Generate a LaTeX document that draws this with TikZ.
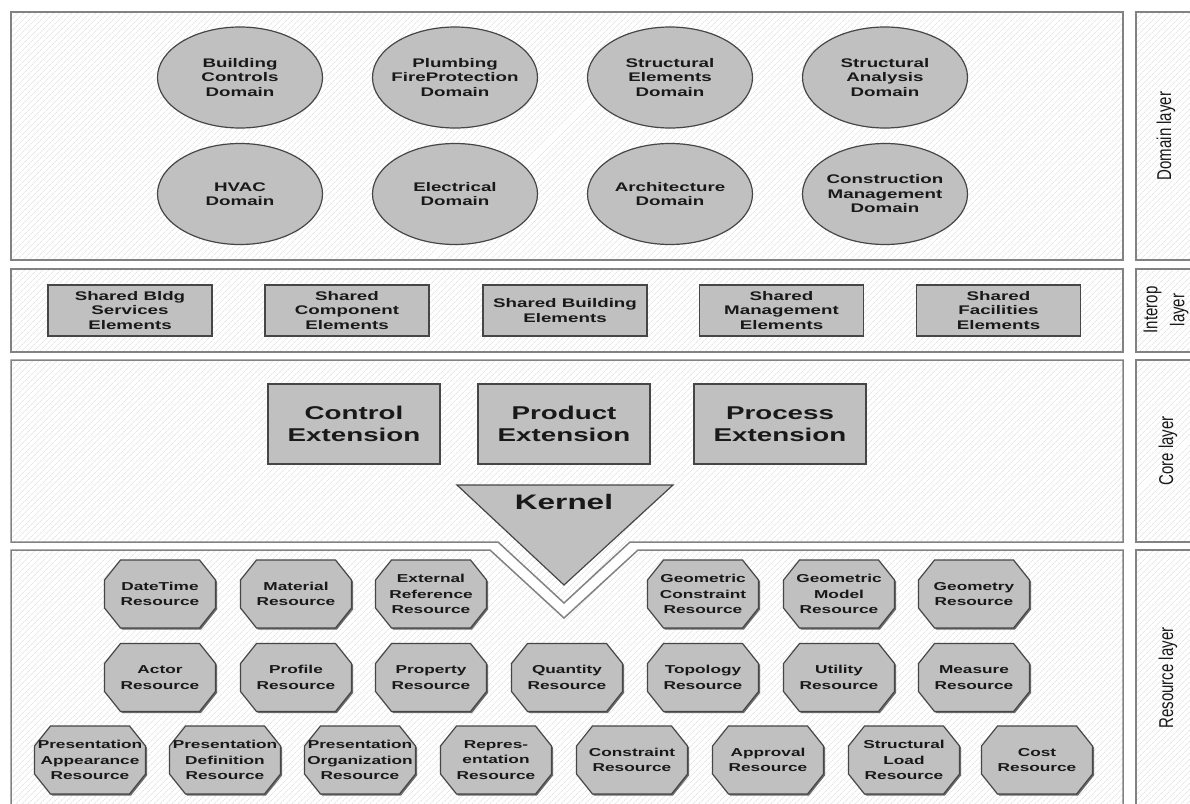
\documentclass[tikz,border=0pt]{standalone}
\usepackage{fontspec}
\setmainfont{Liberation Sans}
\newfontfamily\boxfont[FakeStretch=1.5]{Liberation Sans}
\newfontfamily\layerfont[FakeStretch=0.75]{Liberation Sans}
\usetikzlibrary{patterns.meta}

\definecolor{boxgray}{RGB}{192,192,192}
\definecolor{edgegray}{RGB}{70,70,70}
\definecolor{panelline}{RGB}{130,130,130}
\definecolor{hatchgray}{RGB}{218,218,218}

\tikzset{every picture/.style={line width=0.75pt}}
\tikzset{
  panel/.style={draw=panelline, line width=1.5pt, preaction={fill=white},
    pattern={Lines[angle=45,distance=4pt,line width=0.6pt]}, pattern color=hatchgray},
  greyshape/.style={draw=edgegray, line width=1.2pt, fill=boxgray},
  shade/.style={fill=edgegray!80, draw=none},
  octpath/.style={insert path={(-55.5,-14) -- (-39.5,-34) -- (39.5,-34) -- (55.5,-14) -- (55.5,14) -- (39.5,34) -- (-39.5,34) -- (-55.5,14) -- cycle}},
  domtext/.style={align=center, text=black!90, inner sep=0pt, font=\boxfont\bfseries\fontsize{12.5}{14.5}\selectfont},
  restext/.style={align=center, text=black!90, inner sep=0pt, font=\boxfont\bfseries\fontsize{11.5}{15.5}\selectfont},
  ibox/.style={greyshape, align=center, text=black!90, inner sep=0pt, minimum width=164pt, minimum height=51pt, font=\boxfont\bfseries\fontsize{12.5}{14.3}\selectfont},
  cbox/.style={greyshape, align=center, text=black!90, inner sep=0pt, minimum width=172pt, minimum height=80pt, font=\boxfont\bfseries\fontsize{18.5}{22}\selectfont},
  layer/.style={rotate=90, align=center, text=black!90, inner sep=0pt, font=\layerfont\fontsize{20}{27}\selectfont}
}

\begin{document}
\begin{tikzpicture}[x=1pt,y=1pt,yscale=-1,xscale=1]
\useasboundingbox (0,0) rectangle (1190,803);
\clip (0,0) rectangle (1190,803);

%Shape: Panels
\draw[panel] (11,12) rectangle (1123,260);
\draw[panel] (11,269) rectangle (1123,352);
\draw[panel] (11,360) -- (1123,360) -- (1123,542) -- (630,542) -- (564,603) -- (498,542) -- (11,542) -- cycle;
\draw[panel] (11,550) -- (490,550) -- (564,618) -- (638,550) -- (1123,550) -- (1123,812) -- (11,812) -- cycle;
%Shape: Layer label boxes
\draw[panel] (1136,12) rectangle (1200,260);
\draw[panel] (1136,269) rectangle (1200,352);
\draw[panel] (1136,360) rectangle (1200,542);
\draw[panel] (1136,550) rectangle (1200,812);

% Text Node
\node[layer] (domlayer) at (1166,136) {Domain layer};
% Text Node
\node[layer] (interlayer) at (1166,310) {Interop\\layer};
% Text Node
\node[layer] (corelayer) at (1168,451) {Core layer};
% Text Node
\node[layer] (reslayer) at (1168,678) {Resource layer};

%Shape: Domain ellipses
\foreach \cx/\cy/\nm/\txt in {240/77.5/bldgctrl/{Building\\Controls\\Domain},
    455/77.5/plumbing/{Plumbing\\FireProtection\\Domain},
    670/77.5/structel/{Structural\\Elements\\Domain},
    885/77.5/structan/{Structural\\Analysis\\Domain},
    240/194/hvac/{HVAC\\Domain},
    455/194/electrical/{Electrical\\Domain},
    670/194/architecture/{Architecture\\Domain},
    885/194/constrmgmt/{Construction\\Management\\Domain}}{
  \draw[greyshape] (\cx,\cy) ellipse [x radius=82.5, y radius=50.5];
  \node[domtext] (\nm) at (\cx,\cy) {\txt};
}

%Shape: Interop boxes
\node[ibox] (shbldgsrv) at (130,310.5) {Shared Bldg\\Services\\Elements};
\node[ibox] (shcomp) at (347,310.5) {Shared\\Component\\Elements};
\node[ibox] (shbuilding) at (565,310.5) {Shared Building\\Elements};
\node[ibox] (shmgmt) at (781.5,310.5) {Shared\\Management\\Elements};
\node[ibox] (shfac) at (998.5,310.5) {Shared\\Facilities\\Elements};

%Shape: Core extensions
\node[cbox] (ctrlext) at (354,424) {Control\\Extension};
\node[cbox] (prodext) at (564,424) {Product\\Extension};
\node[cbox] (procext) at (780,424) {Process\\Extension};

%Shape: Kernel triangle
\draw[greyshape] (457,485) -- (673,485) -- (564,585) -- cycle;
% Text Node
\node[domtext, font=\boxfont\bfseries\fontsize{21}{25}\selectfont] (kernel) at (564,502) {Kernel};

%Shape: Resource octagons
\foreach \cx/\cy/\nm/\txt in {160/594/datetime/{DateTime\\Resource},
    296/594/material/{Material\\Resource},
    431/594/extref/{External\\Reference\\Resource},
    703/594/geoconstr/{Geometric\\Constraint\\Resource},
    839/594/geomodel/{Geometric\\Model\\Resource},
    974/594/geometry/{Geometry\\Resource},
    160/677.5/actor/{Actor\\Resource},
    296/677.5/profile/{Profile\\Resource},
    431/677.5/property/{Property\\Resource},
    567/677.5/quantity/{Quantity\\Resource},
    703/677.5/topology/{Topology\\Resource},
    839/677.5/utility/{Utility\\Resource},
    974/677.5/measure/{Measure\\Resource},
    90/760/presapp/{Presentation\\Appearance\\Resource},
    225/760/presdef/{Presentation\\Definition\\Resource},
    360/760/presorg/{Presentation\\Organization\\Resource},
    496/760/repres/{Repres-\\entation\\Resource},
    632/760/constraint/{Constraint\\Resource},
    768/760/approval/{Approval\\Resource},
    904/760/structload/{Structural\\Load\\Resource},
    1037/760/cost/{Cost\\Resource}}{
  \path[shade, shift={(\cx+1.5,\cy+1.5)}, octpath];
  \draw[greyshape, shift={(\cx,\cy)}, octpath];
  \node[restext] (\nm) at (\cx,\cy) {\txt};
}

\end{tikzpicture}
\end{document}
